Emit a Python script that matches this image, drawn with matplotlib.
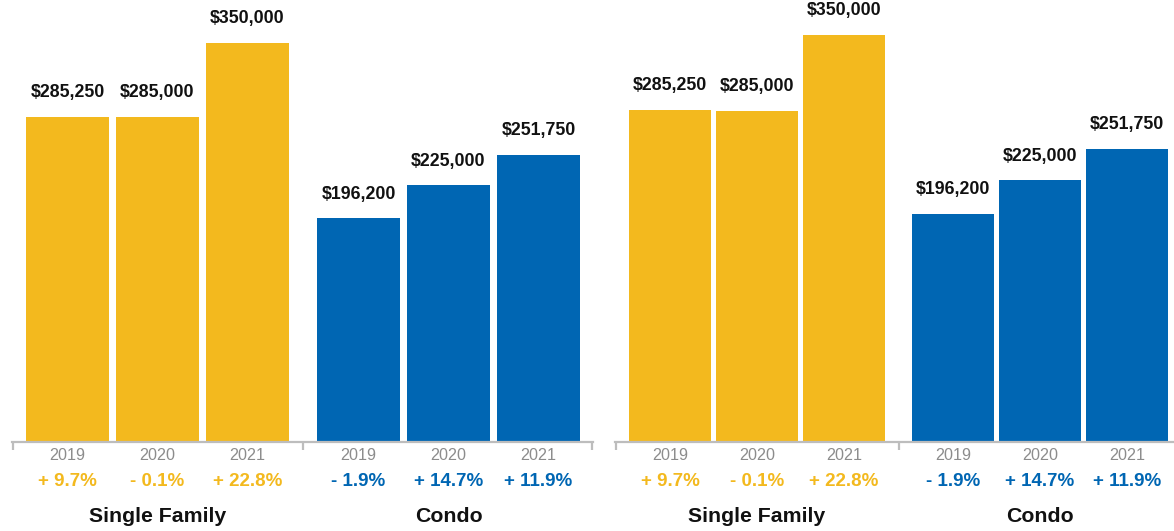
import matplotlib
matplotlib.use("Agg")
import matplotlib.pyplot as plt

plt.rcParams['font.family'] = ['Liberation Sans', 'DejaVu Sans']

# ---- data ----
years = ["2019", "2020", "2021"]
categories = ["Single Family", "Condo"]
single_family = [285250, 285000, 350000]
condo = [196200, 225000, 251750]
sf_change = ["+ 9.7%", "- 0.1%", "+ 22.8%"]
condo_change = ["- 1.9%", "+ 14.7%", "+ 11.9%"]

YELLOW = "#F3B91E"
BLUE = "#0066B3"
GRAY = "#BDBDBD"

W, H = 1174, 531
fig = plt.figure(figsize=(W / 100, H / 100), dpi=100)

# panel layout: (left px, right px, group gap, bar width, ymax)
panels = [
    (12, 593, 0.233, 0.922, 387700),
    (615, 1174, 0.253, 0.943, 380100),
]
base_px = 442

for (lpx, rpx, gap, bw, ymax) in panels:
    ax = fig.add_axes([lpx / W, (H - base_px) / H, (rpx - lpx) / W, base_px / H])
    unit = 90 if lpx < 300 else 87
    x0 = -(55.5 if lpx < 300 else 55) / unit
    ax.set_xlim(x0, x0 + (rpx - lpx) / unit)
    ax.set_ylim(0, ymax)

    groups = [(single_family, sf_change, YELLOW, 0.0),
              (condo, condo_change, BLUE, len(years) + gap)]
    for gi, (vals, chg, col, off) in enumerate(groups):
        xs = [off + i for i in range(len(vals))]
        ax.bar(xs, vals, width=bw, color=col, zorder=2)
        for x, v, yr, c in zip(xs, vals, years, chg):
            ax.annotate(f"${v:,.0f}", (x, v), xytext=(0, 17.5), textcoords="offset points",
                        ha="center", va="center", fontsize=12.8, fontweight="bold", color="#111111")
            ax.annotate(yr, (x, 0), xycoords=("data", "axes fraction"), xytext=(0, -9.5),
                        textcoords="offset points", ha="center", va="center",
                        fontsize=11.6, color="#8C8C8C")
            ax.annotate(c, (x, 0), xycoords=("data", "axes fraction"), xytext=(0, -28.5),
                        textcoords="offset points", ha="center", va="center",
                        fontsize=13.5, fontweight="bold", color=col)
        ax.annotate(categories[gi], (sum(xs) / len(xs), 0), xycoords=("data", "axes fraction"),
                    xytext=(0, -54), textcoords="offset points", ha="center", va="center",
                    fontsize=15.3, fontweight="bold", color="#111111")

    for s in ["top", "left", "right"]:
        ax.spines[s].set_visible(False)
    ax.spines["bottom"].set_color(GRAY)
    ax.spines["bottom"].set_linewidth(1.6)
    xl = ax.get_xlim()
    mid = (len(years) - 1 + len(years) + gap) / 2
    ticks = [xl[0] + 0.01, mid]
    if lpx < 300:
        ticks.append(xl[1] - 0.01)
    ax.set_xticks(ticks)
    ax.set_xticklabels([])
    ax.tick_params(axis="x", length=5.5, width=1.6, color=GRAY, direction="out")
    ax.set_yticks([])
    ax.patch.set_alpha(0)

fig.savefig("out.png", dpi=100)
